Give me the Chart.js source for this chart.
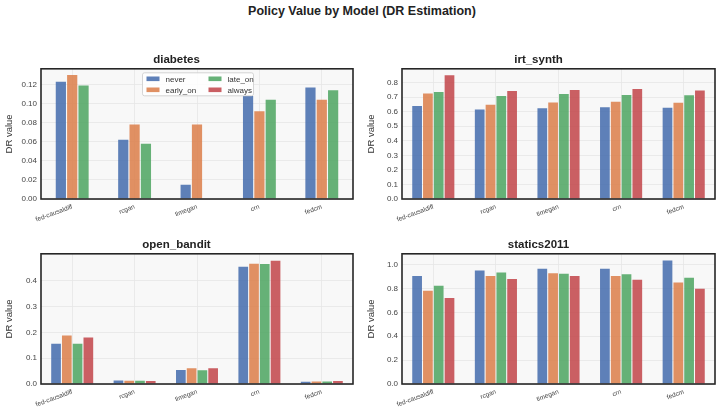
<!DOCTYPE html>
<html>
<head>
<meta charset="utf-8">
<script src="https://cdn.jsdelivr.net/npm/chart.js@4.4.1/dist/chart.umd.min.js"></script>
<style>
  body { margin: 0; background: #fff; width: 724px; height: 414px; position: relative; overflow: hidden;
         font-family: "Liberation Sans", Arial, sans-serif; }
  #title { position: absolute; left: 0; top: 4px; width: 724px; text-align: center;
           font-weight: bold; font-size: 12.5px; color: #222; }
  .box { position: absolute; width: 362px; height: 182px; }
</style>
</head>
<body>
<div id="title">Policy Value by Model (DR Estimation)</div>
<div class="box" style="left:0;top:48px"><canvas id="c0"></canvas></div>
<div class="box" style="left:362px;top:48px"><canvas id="c1"></canvas></div>
<div class="box" style="left:0;top:233px"><canvas id="c2"></canvas></div>
<div class="box" style="left:362px;top:233px"><canvas id="c3"></canvas></div>
<script>
const models = ['fed-causaldiff', 'rcgan', 'timegan', 'crn', 'fedcm'];
const policies = ['never', 'early_on', 'late_on', 'always'];
const colors = ['#4C72B0', '#DD8452', '#55A868', '#C44E52'];

// diabetes has no "always" run, and timegan has no late_on value
const diabetesNever = [0.123, 0.062, 0.015, 0.108, 0.117];
const diabetesEarly = [0.130, 0.078, 0.078, 0.092, 0.104];
const diabetesLate  = [0.119, 0.058, null, 0.104, 0.114];

const irtNever  = [0.639, 0.616, 0.623, 0.630, 0.628];
const irtEarly  = [0.726, 0.648, 0.664, 0.669, 0.662];
const irtLate   = [0.736, 0.708, 0.722, 0.715, 0.713];
const irtAlways = [0.851, 0.743, 0.749, 0.756, 0.745];

const banditNever  = [0.156, 0.014, 0.054, 0.455, 0.009];
const banditEarly  = [0.188, 0.013, 0.061, 0.466, 0.010];
const banditLate   = [0.156, 0.013, 0.053, 0.465, 0.010];
const banditAlways = [0.180, 0.012, 0.061, 0.478, 0.012];

const staticsNever  = [0.905, 0.950, 0.964, 0.964, 1.033];
const staticsEarly  = [0.780, 0.905, 0.928, 0.905, 0.850];
const staticsLate   = [0.822, 0.933, 0.922, 0.919, 0.889];
const staticsAlways = [0.721, 0.880, 0.905, 0.872, 0.797];

function rgba(hex, a) {
  const n = parseInt(hex.slice(1), 16);
  return `rgba(${n >> 16},${(n >> 8) & 255},${n & 255},${a})`;
}

// light panel background + dark frame around the plot area
const panelFrame = {
  id: 'panelFrame',
  beforeDraw(chart) {
    const { ctx, chartArea: a } = chart;
    ctx.save();
    ctx.fillStyle = '#f8f8f8';
    ctx.fillRect(a.left, a.top, a.right - a.left, a.bottom - a.top);
    ctx.restore();
  },
  afterDraw(chart) {
    const { ctx, chartArea: a } = chart;
    ctx.save();
    ctx.strokeStyle = '#262626';
    ctx.lineWidth = 1.6;
    ctx.strokeRect(a.left, a.top, a.right - a.left, a.bottom - a.top);
    ctx.restore();
  }
};

// two-column legend in a box, like matplotlib's ncol=2
const boxLegend = {
  id: 'boxLegend',
  afterDraw(chart, args, opts) {
    if (!opts.show) return;
    const { ctx, chartArea: a } = chart;
    const w = 111, h = 23;
    const x0 = (a.left + a.right) / 2 - w / 2 + 1, y0 = a.top + 4;
    ctx.save();
    ctx.fillStyle = 'rgba(255,255,255,0.85)';
    ctx.strokeStyle = '#cccccc';
    ctx.lineWidth = 0.8;
    ctx.beginPath();
    ctx.roundRect(x0, y0, w, h, 2);
    ctx.fill();
    ctx.stroke();
    ctx.font = '8px "Liberation Sans", Arial, sans-serif';
    ctx.textBaseline = 'middle';
    policies.forEach((p, i) => {
      const col = Math.floor(i / 2), row = i % 2;
      const sx = x0 + 4 + col * 62, sy = y0 + 6 + row * 11;
      ctx.fillStyle = rgba(colors[i], 0.9);
      ctx.fillRect(sx, sy - 2.3, 13, 4.6);
      ctx.fillStyle = '#333';
      ctx.fillText(p, sx + 19, sy + 0.5);
    });
    ctx.restore();
  }
};

function makeChart(id, title, series, yMax, step, decimals, yWidth, catPct, showLegend) {
  const datasets = series.map((vals, i) => ({
    label: policies[i],
    data: vals,
    backgroundColor: rgba(colors[i], 0.9),
    borderWidth: 0,
    categoryPercentage: catPct,
    barPercentage: 0.9
  }));
  return new Chart(document.getElementById(id), {
    type: 'bar',
    data: { labels: models, datasets },
    plugins: [panelFrame, boxLegend],
    options: {
      responsive: true,
      maintainAspectRatio: false,
      animation: false,
      layout: { padding: { left: 0, right: 9, top: 0, bottom: 0 } },
      plugins: {
        legend: { display: false },
        tooltip: { enabled: false },
        boxLegend: { show: showLegend },
        title: {
          display: true,
          text: title,
          color: '#222',
          font: { family: '"Liberation Sans", Arial, sans-serif', size: 11.5, weight: 'bold' },
          padding: { top: 5, bottom: 2 }
        }
      },
      scales: {
        x: {
          offset: true,
          grid: { offset: false, color: '#e6e6e6', lineWidth: 0.8, drawTicks: false },
          border: { display: false },
          ticks: {
            autoSkip: false, minRotation: 20, maxRotation: 20, padding: 4,
            color: '#444', font: { family: '"Liberation Sans", Arial, sans-serif', size: 6.5 }
          },
          afterFit(scale) { scale.height = 31; }
        },
        y: {
          min: 0,
          max: yMax,
          grid: { color: '#e6e6e6', lineWidth: 0.8, drawTicks: false },
          border: { display: false },
          ticks: {
            stepSize: step, padding: 4, color: '#444',
            font: { family: '"Liberation Sans", Arial, sans-serif', size: 8 },
            callback: v => v.toFixed(decimals)
          },
          afterBuildTicks(scale) {
            scale.ticks = scale.ticks.filter(t => Math.abs(t.value / step - Math.round(t.value / step)) < 1e-6);
          },
          title: {
            display: true, text: 'DR value', color: '#333',
            font: { family: '"Liberation Sans", Arial, sans-serif', size: 9.5 },
            padding: { top: 4, bottom: 2 }
          },
          afterFit(scale) { scale.width = yWidth; }
        }
      }
    }
  });
}

makeChart('c0', 'diabetes', [diabetesNever, diabetesEarly, diabetesLate], 0.1365, 0.02, 2, 41, 0.545, true);
makeChart('c1', 'irt_synth', [irtNever, irtEarly, irtLate, irtAlways], 0.895, 0.1, 1, 40, 0.69, false);
makeChart('c2', 'open_bandit', [banditNever, banditEarly, banditLate, banditAlways], 0.505, 0.1, 1, 41, 0.69, false);
makeChart('c3', 'statics2011', [staticsNever, staticsEarly, staticsLate, staticsAlways], 1.09, 0.2, 1, 40, 0.69, false);
</script>
</body>
</html>
